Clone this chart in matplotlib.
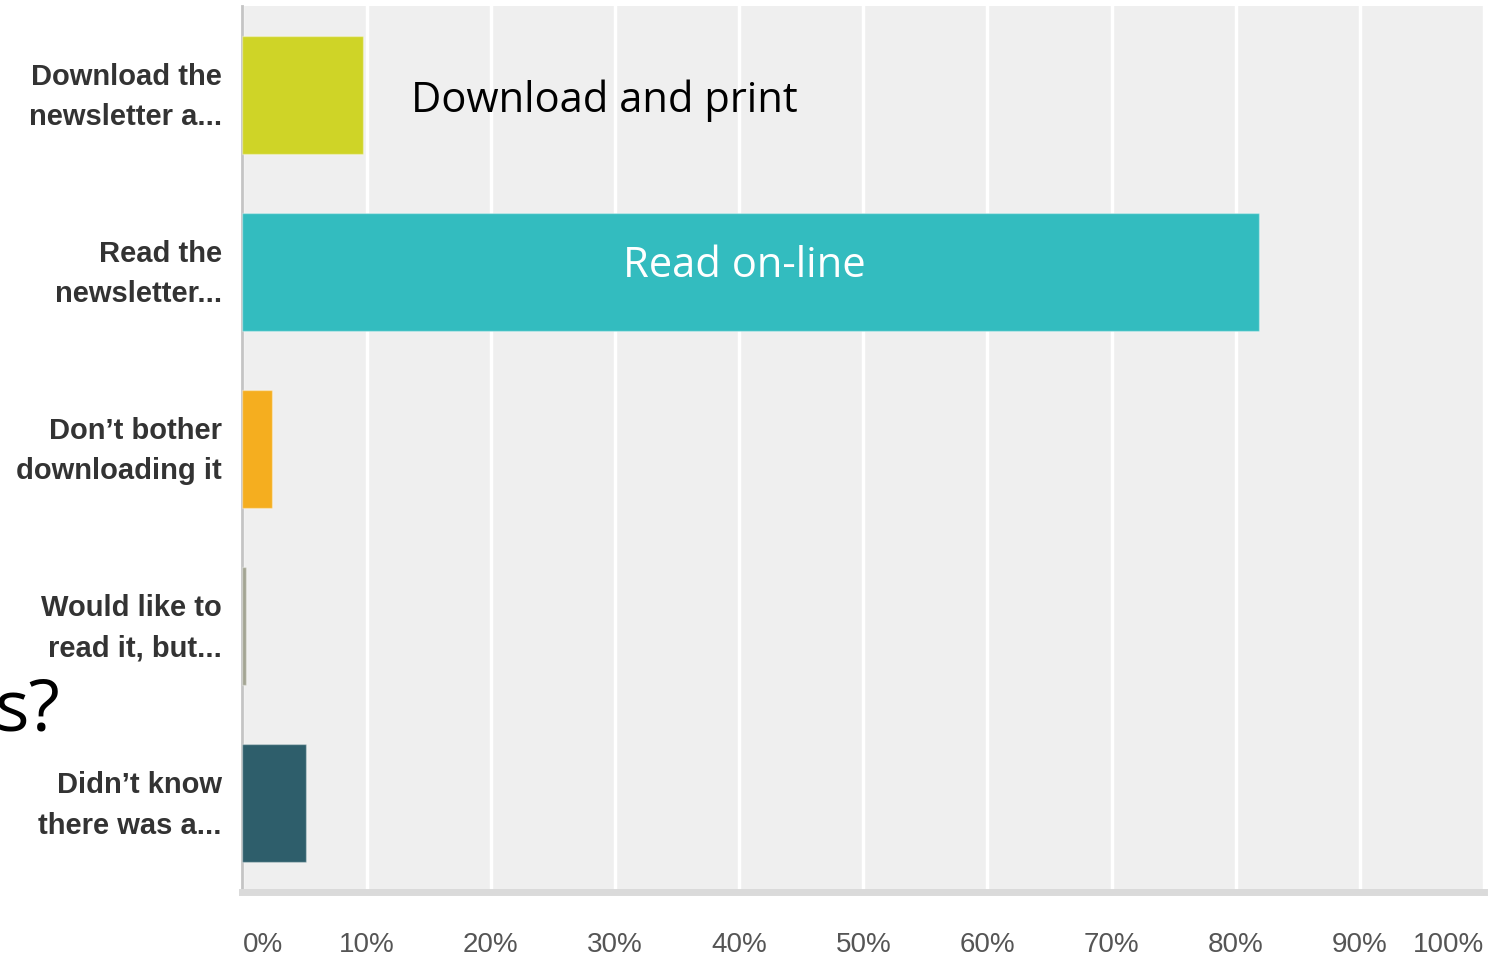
import matplotlib
matplotlib.use("Agg")
import matplotlib.pyplot as plt
from matplotlib import font_manager
from matplotlib.transforms import ScaledTranslation

# Survey answers (share of respondents, %)
categories = [
    "Download the\nnewsletter a...",
    "Read the\nnewsletter...",
    "Don\u2019t bother\ndownloading it",
    "Would like to\nread it, but...",
    "Didn\u2019t know\nthere was a...",
]
percentages = [9.7, 81.9, 2.4, 0.3, 5.1]
bar_colors = ["#cfd427", "#33bcbf", "#f5ae1f", "#a3a593", "#2e5e6b"]
tick_values = [0, 10, 20, 30, 40, 50, 60, 70, 80, 90, 100]
tick_labels = ["0%", "10%", "20%", "30%", "40%", "50%", "60%", "70%", "80%", "90%", "100%"]

names = {f.name for f in font_manager.fontManager.ttflist}
narrow = "Liberation Sans Narrow" if "Liberation Sans Narrow" in names else "Liberation Sans"
callout_font = "Open Sans"

W, H = 1500, 961
fig = plt.figure(figsize=(W / 100, H / 100), dpi=100)
ax = fig.add_axes([242.5 / W, 1 - 892 / H, (1484 - 242.5) / W, (892 - 6) / H])
ax.set_facecolor("#efefef")

y = list(range(len(categories)))
ax.barh(y, percentages, height=0.665, color=bar_colors,
        edgecolor=(1, 1, 1, 0.35), linewidth=1.0, zorder=3)

ax.set_xlim(0, 100)
ax.set_ylim(len(categories) - 0.5, -0.5)

# vertical white gridlines
ax.set_xticks(tick_values)
ax.xaxis.grid(True, color="white", linewidth=2.5, zorder=1)
ax.set_axisbelow(True)

ax.set_xticklabels(tick_labels, fontfamily=narrow, fontsize=20, color="#555555")
ax.tick_params(axis="x", length=0, pad=29)
xt = ax.get_xticklabels()
xt[0].set_ha("left")
xt[-1].set_ha("right")

ax.set_yticks(y)
ax.set_yticklabels(categories, fontfamily=narrow, fontweight="bold",
                   fontsize=21, color="#333333", linespacing=1.55)
ax.tick_params(axis="y", length=0, pad=15)
lift = ScaledTranslation(0, 7 / 100, fig.dpi_scale_trans)
for lab in ax.get_yticklabels():
    lab.set_transform(lab.get_transform() + lift)

for side in ("top", "right"):
    ax.spines[side].set_visible(False)
ax.spines["left"].set_color("#c4c4c4")
ax.spines["left"].set_linewidth(2)
ax.spines["bottom"].set_color("#dadada")
ax.spines["bottom"].set_linewidth(5)

# callouts on the bars
ax.text(13.6, 0.035, "Download and print", fontfamily=callout_font, fontsize=30,
        color="black", va="center", ha="left", zorder=4)
ax.text(40.4, 0.97, "Read on-line", fontfamily=callout_font, fontsize=30,
        color="white", va="center", ha="center", zorder=4)

# tail of the slide title
fig.text(60 / W, 1 - 712 / H, "s?", fontfamily=callout_font, fontsize=52,
         color="black", ha="right", va="center")

fig.savefig("out.png", dpi=100, facecolor="white")
